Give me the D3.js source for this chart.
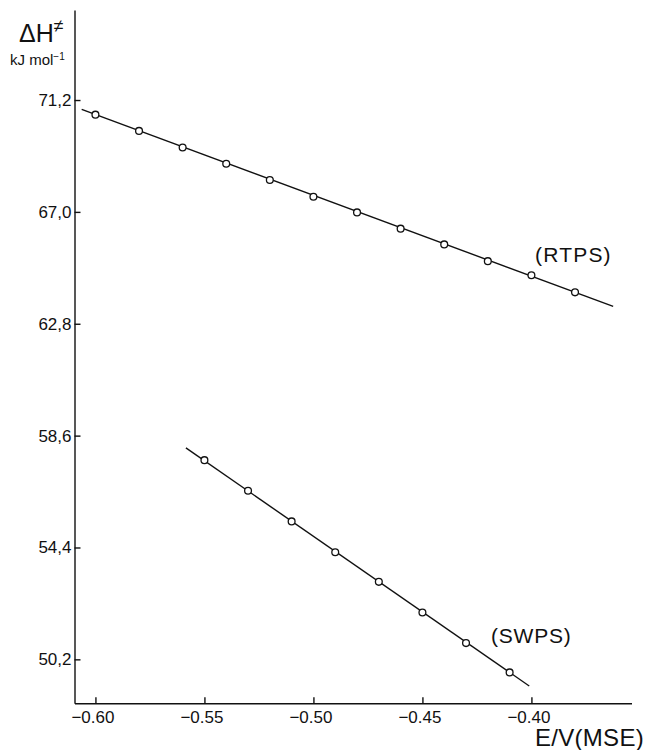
<!DOCTYPE html>
<html>
<head>
<meta charset="utf-8">
<script src="https://cdn.jsdelivr.net/npm/d3@7"></script>
<style>
  body { margin: 0; background: #fff; }
  svg { display: block; }
  text { font-family: "Liberation Sans", Arial, sans-serif; fill: #111; }
</style>
</head>
<body>
<svg id="chart" width="645" height="750"></svg>
<script>
// ---- data ----
const rtpsE = [-0.60, -0.58, -0.56, -0.54, -0.52, -0.50, -0.48, -0.46, -0.44, -0.42, -0.40, -0.38];
const rtpsH = [70.65, 70.04, 69.42, 68.81, 68.20, 67.57, 66.98, 66.37, 65.78, 65.15, 64.62, 63.98];
const rtpsFitE = [-0.6063, -0.3625];
const rtpsFitH = [70.85, 63.45];

const swpsE = [-0.55, -0.53, -0.51, -0.49, -0.47, -0.45, -0.43, -0.41];
const swpsH = [57.68, 56.53, 55.38, 54.22, 53.11, 51.96, 50.81, 49.71];
const swpsFitE = [-0.5585, -0.401];
const swpsFitH = [58.14, 49.20];

const xTicks = [-0.60, -0.55, -0.50, -0.45, -0.40];
const yTicks = [50.2, 54.4, 58.6, 62.8, 67.0, 71.2];

// ---- scales ----
const svg = d3.select("#chart");
const x = d3.scaleLinear().domain([-0.6096, -0.35409]).range([74.5, 631.5]);
const y = d3.scaleLinear().domain([48.55, 74.58]).range([703.3, 10]);

const ink = "#111";

// x axis
const xAxis = svg.append("g")
  .attr("transform", `translate(0,${y.range()[0]})`)
  .call(d3.axisBottom(x).tickValues(xTicks).tickSize(-6).tickPadding(8)
        .tickFormat(d => d3.format(".2f")(d)).tickSizeOuter(0));
xAxis.select(".domain").attr("stroke", ink).attr("stroke-width", 1.4);
xAxis.selectAll(".tick line").attr("stroke", ink).attr("stroke-width", 1.4);
xAxis.selectAll(".tick text").attr("font-size", 17).attr("fill", ink)
  .attr("font-family", "Liberation Sans, Arial, sans-serif").attr("dx", -3);

// y axis
const yAxis = svg.append("g")
  .attr("transform", `translate(${x.range()[0]},0)`)
  .call(d3.axisLeft(y).tickValues(yTicks).tickSize(-6).tickPadding(3)
        .tickFormat(d => d3.format(".1f")(d).replace(".", ",")).tickSizeOuter(0));
yAxis.select(".domain").attr("stroke", ink).attr("stroke-width", 1.4);
yAxis.selectAll(".tick line").attr("stroke", ink).attr("stroke-width", 1.4);
yAxis.selectAll(".tick text").attr("font-size", 17).attr("fill", ink)
  .attr("font-family", "Liberation Sans, Arial, sans-serif");

// fit lines
const line = d3.line().x(d => x(d[0])).y(d => y(d[1]));
svg.append("path").datum(d3.zip(rtpsFitE, rtpsFitH))
  .attr("d", line).attr("fill", "none").attr("stroke", ink).attr("stroke-width", 1.4);
svg.append("path").datum(d3.zip(swpsFitE, swpsFitH))
  .attr("d", line).attr("fill", "none").attr("stroke", ink).attr("stroke-width", 1.4);

// points
function pts(E, H) {
  svg.append("g").selectAll("circle").data(d3.zip(E, H)).join("circle")
    .attr("cx", d => x(d[0])).attr("cy", d => y(d[1])).attr("r", 3.4)
    .attr("fill", "#fff").attr("stroke", ink).attr("stroke-width", 1.3);
}
pts(rtpsE, rtpsH);
pts(swpsE, swpsH);

// series labels
svg.append("text").attr("x", 535).attr("y", 262).attr("font-size", 21)
  .attr("letter-spacing", 1.2).text("(RTPS)");
svg.append("text").attr("x", 491).attr("y", 643).attr("font-size", 21)
  .attr("letter-spacing", 0.8).text("(SWPS)");

// axis titles
svg.append("text").attr("x", 644).attr("y", 746).attr("text-anchor", "end")
  .attr("font-size", 24).attr("letter-spacing", 0.3).text("E/V(MSE)");

const yt = svg.append("text").attr("x", 19).attr("y", 42).attr("font-size", 25);
yt.append("tspan").text("ΔH");
yt.append("tspan").attr("font-size", 18).attr("dy", -10).text("≠");
const yu = svg.append("text").attr("x", 10).attr("y", 65).attr("font-size", 15);
yu.append("tspan").text("kJ mol");
yu.append("tspan").attr("font-size", 10).attr("dy", -5).text("−1");
</script>
</body>
</html>
